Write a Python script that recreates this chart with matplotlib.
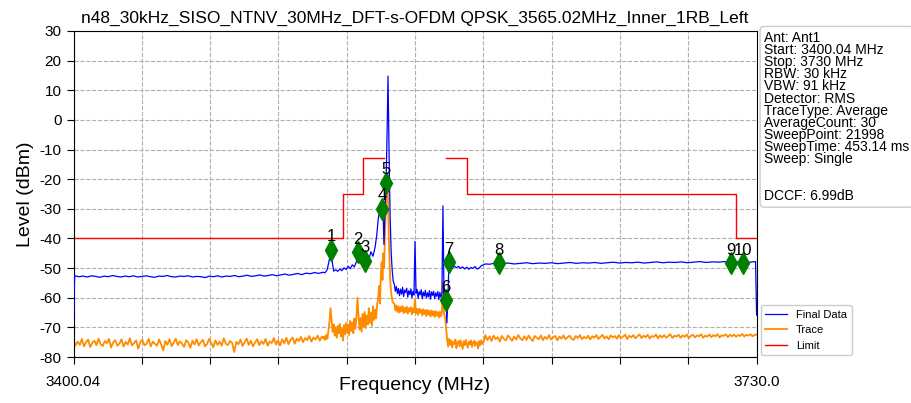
import matplotlib

matplotlib.use("Agg")
import matplotlib.pyplot as plt
import numpy as np

plt.rcParams["font.family"] = ["Liberation Sans", "DejaVu Sans"]
plt.rcParams["axes.unicode_minus"] = False

TITLE = "n48_30kHz_SISO_NTNV_30MHz_DFT-s-OFDM QPSK_3565.02MHz_Inner_1RB_Left"
F_START, F_STOP = 3400.04, 3730.0

# ── Final Data (blue) ──────────────────────────────────────────────
blue_start = [(3400.04, -68.5)]
blue_flat_lo = [  # 3400.6 .. 3520.5
    -52.6, -52.9, -52.7, -53.0, -52.6, -52.8, -53.1, -52.7, -52.9, -52.5,
    -52.8, -53.0, -52.7, -52.9, -52.6, -53.0, -52.8, -52.6, -52.9, -53.1,
    -52.7, -52.8, -52.5, -52.9, -53.0, -52.7, -52.8, -52.6, -53.0, -52.8,
    -52.9, -53.2, -52.7, -52.9, -52.6, -53.0, -52.7, -52.8, -52.5, -52.9,
    -52.7, -52.4, -52.8, -52.6, -52.3, -52.7, -52.5, -52.2, -52.6, -52.3,
    -52.0, -52.4, -52.1, -51.8, -52.2, -51.7, -51.9, -51.5, -51.8, -51.4]
blue_peak = [
    (3521.5, -51.6), (3522.6, -50.5), (3523.5, -47.5), (3524.4, -44.3), (3525.0, -47.8),
    (3525.7, -51.0), (3526.7, -50.6), (3527.7, -51.1), (3528.7, -50.3), (3529.7, -50.9),
    (3530.7, -49.9), (3531.7, -50.5), (3532.7, -49.4), (3533.7, -50.2), (3534.7, -48.9),
    (3535.7, -49.6), (3536.7, -47.8), (3537.5, -44.8), (3538.2, -48.2), (3539.0, -46.8),
    (3539.9, -48.0), (3540.9, -47.6), (3541.7, -45.8), (3542.7, -47.2), (3543.7, -44.5),
    (3544.7, -46.0), (3545.7, -43.0), (3546.5, -39.0), (3547.3, -33.0), (3548.1, -30.5),
    (3549.1, -29.8), (3549.6, -32.0), (3550.0, -42.0), (3550.4, -33.0), (3551.0, -21.3),
    (3551.5, -5.0), (3551.96, 14.8), (3552.3, -2.0), (3552.6, -18.0), (3553.0, -33.0),
    (3553.5, -45.0), (3554.0, -51.0), (3554.5, -54.5)]
blue_band = [  # 3555 .. 3579
    -55.5, -57.8, -56.2, -58.6, -56.9, -59.3, -57.1, -58.8, -56.5, -59.6,
    -57.4, -58.2, -56.8, -59.8, -57.6, -58.9, -57.0, -60.0, -57.8, -59.1,
    -41.0, -58.5, -57.2, -60.2, -57.9, -59.0, -57.3, -60.4, -58.1, -59.4,
    -57.5, -60.1, -58.3, -59.7, -57.6, -60.5, -58.0, -59.2, -57.8, -60.3,
    -58.4, -59.5, -57.9, -60.6, -58.2, -59.8, -58.6, -29.0, -59.5]
blue_edge = [
    (3579.3, -57.0), (3580.0, -60.8), (3580.4, -68.5), (3580.9, -60.0), (3581.4, -48.0),
    (3582.0, -49.6), (3583.0, -50.0), (3584.0, -49.3), (3585.0, -49.9), (3586.0, -49.4),
    (3587.0, -50.1), (3588.0, -49.6), (3589.0, -50.3), (3590.0, -49.7), (3591.0, -50.4),
    (3592.0, -49.8), (3593.0, -50.1), (3594.0, -49.5), (3595.0, -50.3), (3596.0, -50.0),
    (3597.0, -49.2), (3598.0, -48.9), (3599.0, -48.6), (3601.0, -48.7), (3603.0, -48.4),
    (3605.6, -48.3)]
blue_flat_hi = [  # 3607 .. 3729.5
    -48.5, -48.3, -48.6, -48.4, -48.2, -48.5, -48.3, -48.4, -48.2, -48.5,
    -48.3, -48.1, -48.4, -48.2, -48.3, -48.1, -48.4, -48.2, -48.0, -48.3,
    -48.1, -48.2, -48.0, -48.3, -48.1, -47.9, -48.2, -48.0, -48.1, -47.9,
    -48.2, -48.0, -47.8, -48.1, -47.9, -48.0, -47.8, -48.1, -47.9, -47.8,
    -48.0, -47.8]
blue_end = [(3730.0, -65.8)]

# ── Trace (orange) ────────────────────────────────────────────────
orange_lo = [  # 3400.04 .. 3521
    -74.2, -76.1, -74.8, -75.9, -73.9, -76.4, -75.0, -74.1, -76.6, -75.2,
    -74.5, -76.0, -73.8, -75.7, -76.3, -74.6, -75.4, -73.9, -76.8, -75.1,
    -74.3, -76.2, -75.5, -74.0, -76.5, -74.9, -75.8, -73.7, -76.1, -75.3,
    -74.4, -77.2, -75.0, -74.2, -76.0, -75.6, -73.9, -76.4, -74.8, -75.5,
    -76.2, -74.1, -75.7, -77.8, -74.6, -75.9, -74.0, -76.3, -75.2, -73.8,
    -76.0, -74.7, -75.5, -76.6, -74.3, -75.1, -76.9, -74.5, -75.8, -74.0,
    -76.1, -75.0, -74.2, -76.4, -75.6, -73.9, -75.3, -76.7, -74.4, -75.9,
    -74.8, -76.2, -73.7, -75.5, -76.0, -74.6, -75.2, -78.3, -74.9, -75.7,
    -74.1, -76.3, -75.0, -73.8, -75.9, -74.5, -76.4, -75.1, -74.0, -76.0,
    -74.7, -75.6, -73.9, -76.2, -74.8, -75.3, -73.6, -75.8, -74.4, -76.1,
    -74.0, -75.4, -73.5, -75.7, -74.2, -73.4, -75.5, -73.8, -74.6, -73.2,
    -75.0, -73.6, -74.3, -72.9, -74.8, -73.4, -74.1, -72.8, -74.5, -73.1, -73.9]
orange_shoulder = [  # 3521.2 .. 3546.7
    -73.0, -74.2, -72.5, -73.8, -71.0, -68.0, -63.5, -67.5, -71.5, -69.0,
    -72.8, -70.0, -73.5, -69.5, -72.0, -68.8, -73.0, -70.5, -74.5, -69.2,
    -72.4, -68.5, -71.8, -69.0, -72.6, -67.8, -71.2, -68.4, -72.0, -67.0,
    -70.5, -66.5, -60.0, -66.0, -70.8, -66.8, -71.5, -65.5, -69.8, -64.8,
    -70.2, -66.0, -69.0, -63.5, -68.5, -65.0, -69.4, -63.0, -67.5, -64.0,
    -67.0, -62.5]
orange_peak = [
    (3547.2, -60.0), (3547.7, -56.0), (3548.1, -62.0), (3548.5, -52.0), (3548.9, -48.0),
    (3549.3, -54.0), (3549.7, -45.0), (3550.1, -50.0), (3550.5, -38.0), (3550.9, -30.0),
    (3551.3, -24.0), (3551.7, -22.0), (3552.0, -28.0), (3552.3, -38.0), (3552.7, -48.0),
    (3553.1, -55.0), (3553.6, -59.0), (3554.2, -61.5)]
orange_band = [  # 3555 .. 3579
    -62.0, -64.3, -62.6, -64.8, -62.9, -65.0, -63.1, -64.6, -62.8, -65.2,
    -63.4, -64.9, -63.0, -65.4, -63.5, -64.7, -63.2, -65.6, -63.6, -65.0,
    -60.5, -65.3, -63.8, -65.8, -63.7, -65.1, -64.0, -66.0, -63.9, -65.5,
    -64.2, -66.2, -64.1, -65.7, -64.4, -66.4, -64.3, -65.9, -64.6, -66.5,
    -64.5, -66.1, -64.8, -66.7, -64.7, -66.3, -64.9, -55.0, -65.5]
orange_gap = [  # 3579.5 .. 3598.5
    -66.5, -70.0, -74.0, -76.5, -73.8, -75.9, -74.4, -76.8, -74.9, -75.6,
    -74.1, -77.0, -75.2, -74.6, -76.4, -74.3, -75.8, -77.3, -74.7, -76.0,
    -74.2, -75.5, -76.9, -74.8, -75.7, -74.4, -76.6, -75.1, -74.5, -76.3,
    -74.9, -75.4, -77.1, -74.6, -76.0, -74.3, -75.6, -75.0, -74.2]
orange_hi = [  # 3599 .. 3730
    -72.6, -74.3, -73.0, -74.6, -72.8, -74.0, -73.3, -74.8, -72.9, -73.9,
    -74.4, -72.7, -73.6, -74.5, -73.1, -74.1, -72.6, -73.8, -74.3,
    -73.0, -74.2, -72.8, -73.7, -74.6, -72.9, -73.5, -74.0, -72.7, -74.3,
    -73.2, -73.9, -72.6, -74.1, -73.4, -72.9, -74.4, -73.1, -73.8,
    -72.7, -74.0, -73.3, -72.8, -73.9, -74.2, -72.9, -73.6, -72.6, -74.0,
    -73.2, -73.7, -72.8, -74.1, -73.0, -73.5, -72.6, -73.9, -73.2,
    -72.5, -73.8, -73.0, -74.0, -72.7, -73.4, -72.9, -73.8, -72.6, -73.6,
    -73.1, -72.5, -73.9, -72.8, -73.4, -72.6, -73.7, -73.0, -72.4,
    -73.6, -72.8, -73.3, -72.5, -73.8, -72.9, -73.2, -72.4, -73.7, -72.7,
    -73.4, -72.6, -73.5, -72.9, -72.3, -73.6, -72.8, -73.1, -72.5,
    -73.5, -72.7, -73.2, -72.4, -73.6, -72.9, -72.5, -73.4, -72.7, -73.0,
    -72.3, -73.5, -72.8, -73.1, -72.4, -73.3, -72.6, -73.0, -72.3,
    -73.4, -72.7, -72.9, -72.3, -73.3, -72.5, -73.0, -72.4, -73.2, -72.6,
    -72.9, -72.2, -73.1, -72.5, -72.8, -72.3, -73.0, -72.6, -72.4]

# ── Limit (red), two pieces around the channel ──────────────────────
limit_lo_f = [3400.04, 3530.02, 3530.02, 3540.02, 3540.02, 3550.02]
limit_lo_v = [-40, -40, -25, -25, -13, -13]
limit_hi_f = [3580.02, 3590.02, 3590.02, 3720.02, 3720.02, 3730.0]
limit_hi_v = [-13, -13, -25, -25, -40, -40]

# ── markers ─────────────────────────────────────────────────────────
mk_freq = [3524.4, 3537.5, 3540.9, 3549.1, 3551.0, 3580.0, 3581.4, 3605.6, 3717.7, 3723.5]
mk_level = [-43.9, -44.6, -47.6, -30.0, -21.3, -60.8, -48.0, -48.3, -48.3, -48.3]

info_lines = ["Ant: Ant1", "Start: 3400.04 MHz", "Stop: 3730 MHz", "RBW: 30 kHz",
              "VBW: 91 kHz", "Detector: RMS", "TraceType: Average", "AverageCount: 30",
              "SweepPoint: 21998", "SweepTime: 453.14 ms", "Sweep: Single", "", "",
              "DCCF: 6.99dB"]


def seg(f0, f1, vals):
    return list(zip(np.linspace(f0, f1, len(vals)), vals))


blue = (blue_start + seg(3400.6, 3520.5, blue_flat_lo) + blue_peak
        + seg(3555.0, 3579.0, blue_band) + blue_edge
        + seg(3607.0, 3729.5, blue_flat_hi) + blue_end)
orange = (seg(F_START, 3521.0, orange_lo) + seg(3521.2, 3546.7, orange_shoulder)
          + orange_peak + seg(3555.0, 3579.0, orange_band)
          + seg(3579.5, 3598.5, orange_gap) + seg(3599.0, F_STOP, orange_hi))
bf, bv = np.array(blue).T
of, ov = np.array(orange).T

fig = plt.figure(figsize=(9.12, 4.03), dpi=100)
ax = fig.add_axes([0.0806, 0.1141, 0.749, 0.809])

ax.plot(bf, bv, color="blue", linewidth=0.9, label="Final Data", zorder=3)
ax.plot(of, ov, color="darkorange", linewidth=1.3, label="Trace", zorder=2)
ax.plot(limit_lo_f, limit_lo_v, color="red", linewidth=1.0, label="Limit", zorder=2)
ax.plot(limit_hi_f, limit_hi_v, color="red", linewidth=1.0, zorder=2)

ax.plot(mk_freq, mk_level, linestyle="none", marker="d", color="green",
        markersize=11, zorder=4)
for i, (f, v) in enumerate(zip(mk_freq, mk_level), start=1):
    ax.annotate(str(i), (f, v), xytext=(0, 4), textcoords="offset points",
                ha="center", va="bottom", fontsize=12, zorder=5)

ax.set_xlim(F_START, F_STOP)
ax.set_ylim(-80, 30)
xt = np.linspace(F_START, F_STOP, 11)
ax.set_xticks(xt)
ax.set_xticklabels(["3400.04"] + [""] * 9 + ["3730.0"])
ax.set_yticks(np.arange(-80, 31, 10))
ax.tick_params(labelsize=11, length=5, direction="out")
ax.tick_params(axis="x", pad=8)
ax.grid(True, linestyle="--", color="#b0b0b0", linewidth=0.8)
ax.set_axisbelow(True)
ax.set_xlabel("Frequency (MHz)", fontsize=14)
ax.xaxis.set_label_coords(0.5, -0.062)
ax.set_ylabel("Level (dBm)", fontsize=14)
ax.set_title(TITLE, fontsize=12.5)

ax.legend(loc="lower left", bbox_to_anchor=(1.006, 0.006), fontsize=8,
          borderaxespad=0.0, framealpha=1)

fig.text(0.838, 0.924, "\n".join(info_lines), fontsize=10, va="top", ha="left",
         linespacing=0.835,
         bbox=dict(boxstyle="round,pad=0.3", facecolor="white", edgecolor="#cccccc"))

fig.savefig("out.png", dpi=100)
